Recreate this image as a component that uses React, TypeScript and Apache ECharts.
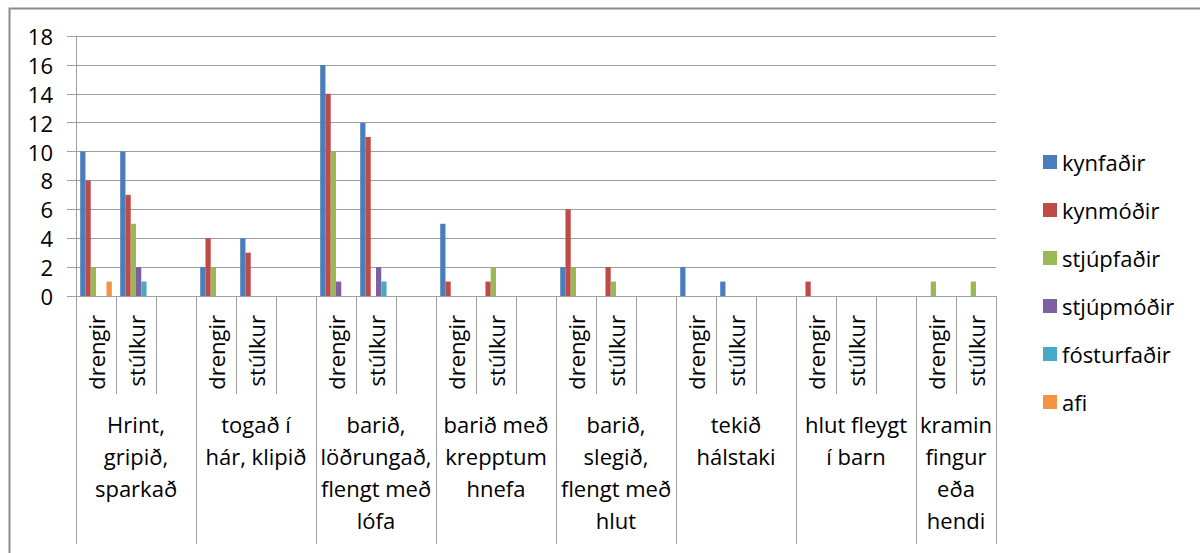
import React, { useEffect, useRef } from "react";
import * as echarts from "echarts";

const slotLabels = [
  "drengir", "stúlkur", "",
  "drengir", "stúlkur", "",
  "drengir", "stúlkur", "",
  "drengir", "stúlkur", "",
  "drengir", "stúlkur", "",
  "drengir", "stúlkur", "",
  "drengir", "stúlkur", "",
  "drengir", "stúlkur",
];

const groupLabels = [
  "Hrint,\ngripið,\nsparkað",
  "togað í\nhár, klipið",
  "barið,\nlöðrungað,\nflengt með\nlófa",
  "barið með\nkrepptum\nhnefa",
  "barið,\nslegið,\nflengt með\nhlut",
  "tekið\nhálstaki",
  "hlut fleygt\ní barn",
  "kramin\nfingur\neða\nhendi",
];

const seriesNames = ["kynfaðir", "kynmóðir", "stjúpfaðir", "stjúpmóðir", "fósturfaðir", "afi"];
const colors = ["#4A7EBB", "#BE4B48", "#98B954", "#7D60A0", "#46AAC5", "#F39343"];

const kynfadir = [10, 10, null, 2, 4, null, 16, 12, null, 5, 0, null, 2, 0, null, 2, 1, null, 0, 0, null, 0, 0];
const kynmodir = [8, 7, null, 4, 3, null, 14, 11, null, 1, 1, null, 6, 2, null, 0, 0, null, 1, 0, null, 0, 0];
const stjupfadir = [2, 5, null, 2, 0, null, 10, 0, null, 0, 2, null, 2, 1, null, 0, 0, null, 0, 0, null, 1, 1];
const stjupmodir = [0, 2, null, 0, 0, null, 1, 2, null, 0, 0, null, 0, 0, null, 0, 0, null, 0, 0, null, 0, 0];
const fosturfadir = [0, 1, null, 0, 0, null, 0, 1, null, 0, 0, null, 0, 0, null, 0, 0, null, 0, 0, null, 0, 0];
const afi = [1, 0, null, 0, 0, null, 0, 0, null, 0, 0, null, 0, 0, null, 0, 0, null, 0, 0, null, 0, 0];

const allSeries = [kynfadir, kynmodir, stjupfadir, stjupmodir, fosturfadir, afi];

// group-level axis: half-slot points (boundaryGap false)
const groupLabelIdx = [3, 9, 15, 21, 27, 33, 39, 44];
const groupTickIdx = [0, 6, 12, 18, 24, 30, 36, 42, 46];
const halfSlotCount = slotLabels.length * 2 + 1;

const FONT = "Open Sans";
const GRAY = "#9f9f9f";

export default function App() {
  const ref = useRef<HTMLDivElement>(null);
  useEffect(() => {
    if (!ref.current) return;
    const chart = echarts.init(ref.current, null, { renderer: "svg" });
    const groupAxisData: string[] = [];
    for (let i = 0; i < halfSlotCount; i++) {
      const k = groupLabelIdx.indexOf(i);
      groupAxisData.push(k >= 0 ? groupLabels[k] : "");
    }
    chart.setOption({
      animation: false,
      backgroundColor: "#ffffff",
      textStyle: { fontFamily: FONT },
      grid: { left: 76, right: 204, top: 36, bottom: 257, containLabel: false },
      legend: {
        orient: "vertical",
        left: 1038,
        top: 146,
        itemWidth: 14,
        itemHeight: 14,
        itemGap: 26,
        icon: "rect",
        textStyle: { fontFamily: FONT, fontSize: 22, color: "#000", lineHeight: 22 },
        data: seriesNames,
      },
      xAxis: [
        {
          type: "category",
          data: slotLabels,
          boundaryGap: true,
          axisLine: { show: true, lineStyle: { color: GRAY, width: 1 } },
          axisTick: { show: true, interval: 0, length: 98, lineStyle: { color: GRAY, width: 1 } },
          axisLabel: {
            interval: 0,
            rotate: 90,
            margin: 19,
            fontFamily: FONT,
            fontSize: 22,
            color: "#000",
          },
          splitLine: { show: false },
        },
        {
          type: "category",
          data: groupAxisData,
          boundaryGap: false,
          position: "bottom",
          axisLine: { show: false },
          axisTick: {
            show: true,
            length: 248,
            interval: (i: number) => groupTickIdx.indexOf(i) >= 0,
            lineStyle: { color: GRAY, width: 1 },
          },
          axisLabel: {
            interval: (i: number) => groupLabelIdx.indexOf(i) >= 0,
            margin: 112,
            fontFamily: FONT,
            fontSize: 22,
            lineHeight: 32,
            color: "#000",
            align: "center",
          },
          splitLine: { show: false },
        },
      ],
      yAxis: {
        type: "value",
        min: 0,
        max: 18,
        interval: 2,
        axisLine: { show: true, lineStyle: { color: GRAY, width: 1 } },
        axisTick: { show: true, length: 9, lineStyle: { color: GRAY, width: 1 } },
        axisLabel: { margin: 23, fontFamily: FONT, fontSize: 22, color: "#000" },
        splitLine: { show: true, lineStyle: { color: GRAY, width: 1 } },
      },
      series: allSeries.map((d, i) => ({
        name: seriesNames[i],
        type: "bar",
        xAxisIndex: 0,
        data: d,
        barGap: "0%",
        barCategoryGap: "21%",
        itemStyle: { color: colors[i] },
      })),
      graphic: [
        {
          type: "rect",
          left: 7,
          top: 6,
          shape: { x: 0, y: 0, width: 1210, height: 560 },
          style: { fill: "none", stroke: "#8c8c8c", lineWidth: 2 },
          silent: true,
          z: -1,
        },
      ],
    });
    return () => chart.dispose();
  }, []);
  return (
    <div
      ref={ref}
      style={{ position: "fixed", left: 0, top: 0, width: 1200, height: 553 }}
    />
  );
}
